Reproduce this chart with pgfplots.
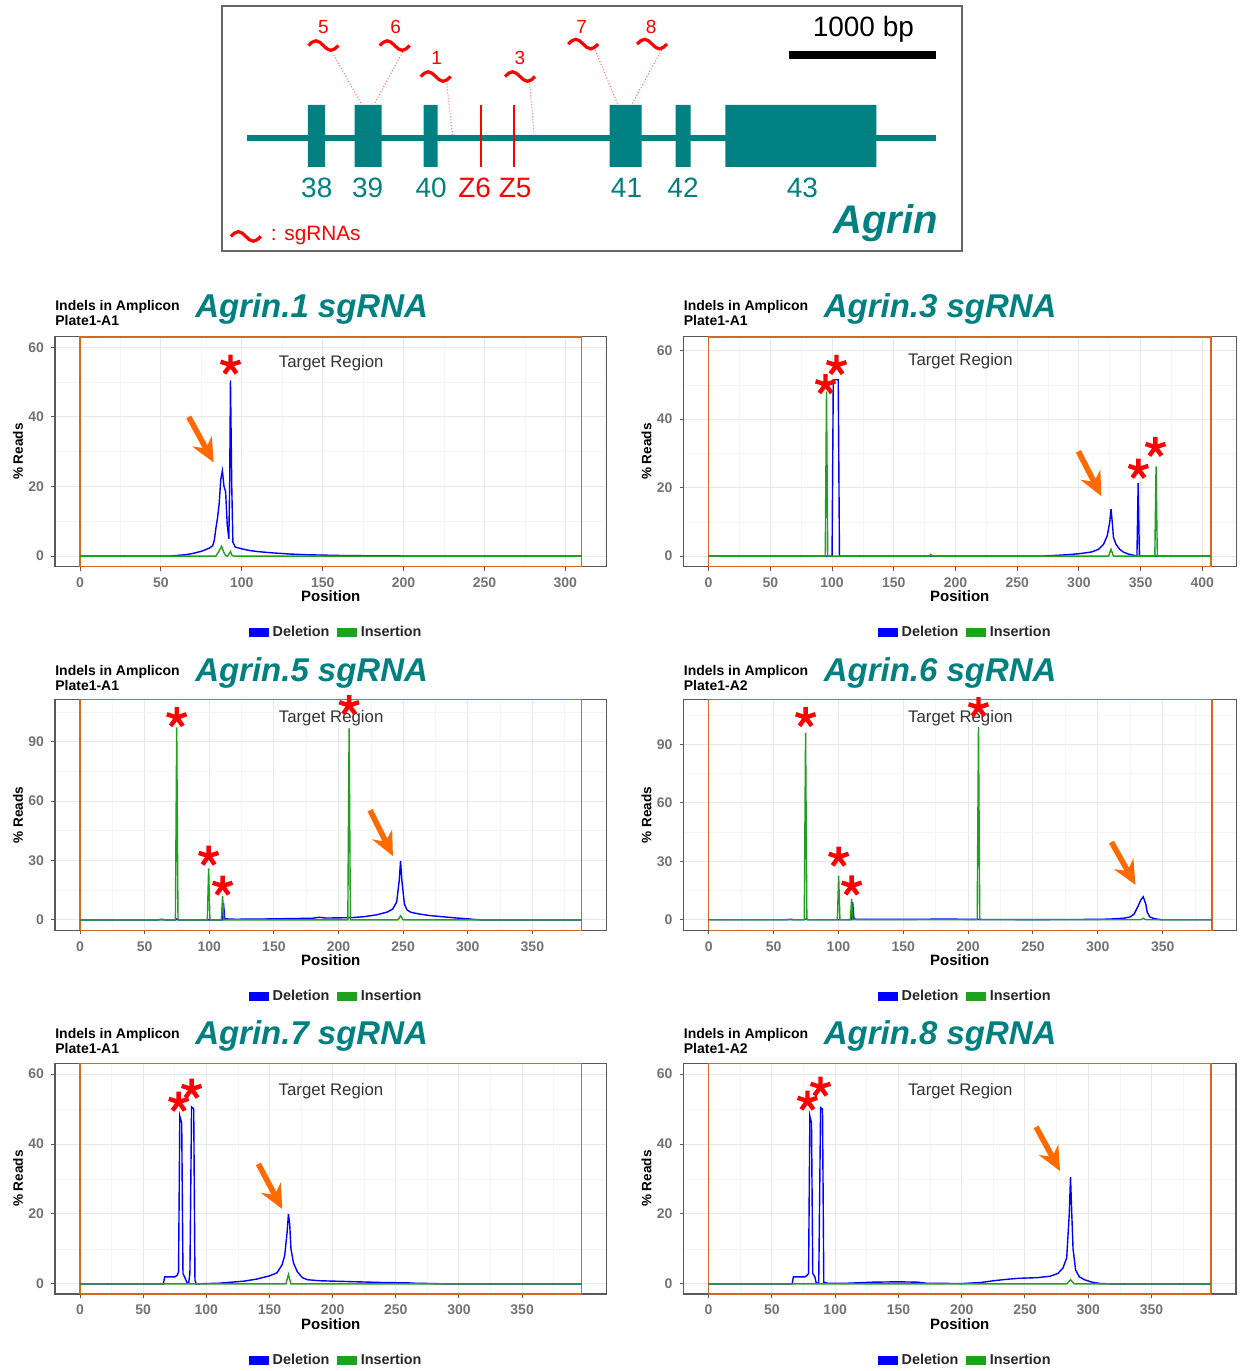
\documentclass[border=0pt]{standalone}
\usepackage{pgfplots}
\pgfplotsset{compat=1.18}
\usepackage{fontspec}
\setmainfont{Liberation Sans}
\usetikzlibrary{arrows.meta}
\definecolor{agteal}{HTML}{008080}
\definecolor{delblue}{HTML}{0000FF}
\definecolor{insgreen}{HTML}{1FA01F}
\definecolor{ampor}{HTML}{D2691E}
\definecolor{arrowor}{HTML}{FF6A00}
\tikzset{del/.style={delblue, line width=0.7pt}, ins/.style={insgreen, line width=0.7pt}}
\pgfplotsset{
 panel/.style={
  scale only axis, width=276pt, height=115pt, anchor=south west,
  clip mode=individual,
  axis line style={draw=black!65, line width=0.6pt},
  tick align=outside, tick pos=left,
  major tick length=2pt, minor tick length=0pt,
  tick style={draw=black!65, line width=0.5pt},
  grid=both,
  major grid style={draw=black!9, line width=0.5pt},
  minor grid style={draw=black!4, line width=0.3pt},
  ticklabel style={font=\bfseries\fontsize{7}{8}\selectfont, text=black!55},
  /pgf/number format/assume math mode=true,
  xlabel=Position, ylabel={\% Reads},
  xlabel style={font=\bfseries\fontsize{7.5}{8}\selectfont, at={(axis description cs:0.5,-0.13)}, anchor=center},
  ylabel style={font=\bfseries\fontsize{6.8}{8}\selectfont, at={(axis description cs:-0.067,0.5)}, anchor=center},
  legend style={at={(axis description cs:0.512,-0.287)}, anchor=center, draw=none, fill=none, legend columns=2, font=\bfseries\fontsize{7.2}{8}\selectfont, text=black!85, inner sep=0pt, /tikz/every even column/.append style={column sep=2pt}},
  legend image code/.code={\fill[##1] (0pt,-2pt) rectangle (9pt,2pt);},
 },
}
\newcommand\redstar[2]{\draw[red, line width=2.2pt] (axis cs:#1,#2) -- ++(90:5.2pt) (axis cs:#1,#2) -- ++(18:5.2pt) (axis cs:#1,#2) -- ++(162:5.2pt) (axis cs:#1,#2) -- ++(-54:5.2pt) (axis cs:#1,#2) -- ++(234:5.2pt);}
\newcommand\orarrow[4]{\draw[-{Stealth[length=12pt,width=11pt,inset=4pt]}, draw=arrowor, fill=arrowor, line width=2.8pt] (axis cs:#1,#2) -- (axis cs:#3,#4);}
\newcommand\sgt[2]{\draw[red, line width=1.6pt] (axis cs:#1,#2) ++(-7.5pt,-0.3pt) sin ++(3.75pt,2.4pt) cos ++(3.75pt,-2.4pt) sin ++(3.75pt,-2.4pt) cos ++(3.75pt,2.4pt);}
\newcommand\treg[2]{\node[font=\fontsize{8.4}{9}\selectfont, text=black!80] at (axis cs:#1,#2) {Target Region};}
\newcommand\sgn[3]{\node[text=red, font=\fontsize{9.5}{10}\selectfont] at (axis cs:#1,#2) {#3};}
\newcommand\exn[3]{\node[text=#3, font=\fontsize{14}{14}\selectfont] at (axis cs:#1,-188) {#2};}
\begin{document}
\begin{tikzpicture}
\path (0,0) rectangle (621.5pt,-685.5pt);

% ---------------- gene diagram ----------------
\begin{axis}[at={(111pt,-125.5pt)}, anchor=south west, scale only axis, width=370.5pt, height=122.5pt,
  xmin=222, xmax=963, ymin=-251, ymax=-6, xtick=\empty, ytick=\empty,
  axis line style={draw=black!60, line width=1pt}, clip mode=individual]
\addplot[agteal, line width=3pt] coordinates {(247,-138) (937,-138)};
\addplot[fill=agteal, draw=none] coordinates {(308,-105) (325,-105) (325,-167) (308,-167) (308,-105)};
\addplot[fill=agteal, draw=none] coordinates {(355,-105) (382,-105) (382,-167) (355,-167) (355,-105)};
\addplot[fill=agteal, draw=none] coordinates {(424,-105) (438,-105) (438,-167) (424,-167) (424,-105)};
\addplot[fill=agteal, draw=none] coordinates {(610,-105) (642,-105) (642,-167) (610,-167) (610,-105)};
\addplot[fill=agteal, draw=none] coordinates {(676,-105) (691,-105) (691,-167) (676,-167) (676,-105)};
\addplot[fill=agteal, draw=none] coordinates {(726,-105) (877,-105) (877,-167) (726,-167) (726,-105)};
\addplot[red, line width=1.1pt] coordinates {(481,-105) (481,-167)};
\addplot[red, line width=1.1pt] coordinates {(514,-105) (514,-167)};
\addplot[red!60, densely dotted, line width=0.5pt] coordinates {(334,-55) (361.6,-104)};
\addplot[red!60, densely dotted, line width=0.5pt] coordinates {(403,-52) (374.5,-104)};
\addplot[red!60, densely dotted, line width=0.5pt] coordinates {(447,-83.6) (453,-135.5)};
\addplot[red!60, densely dotted, line width=0.5pt] coordinates {(530,-83.6) (534.6,-135.5)};
\addplot[red!60, densely dotted, line width=0.5pt] coordinates {(595.5,-50) (618,-104)};
\addplot[red!60, densely dotted, line width=0.5pt] coordinates {(662,-50) (632.5,-104)};
\addplot[black, line width=3.85pt] coordinates {(790,-54.7) (937,-54.7)};
\sgt{323.6}{-45}\sgt{395}{-45}\sgt{436}{-76}\sgt{520.4}{-76}\sgt{583.6}{-43.5}\sgt{652.5}{-43.5}\sgt{246}{-236}
\sgn{323.6}{-27}{5}\sgn{396}{-27}{6}\sgn{437}{-58}{1}\sgn{520.4}{-58}{3}\sgn{582}{-27}{7}\sgn{651.6}{-27}{8}
\exn{317}{38}{agteal}\exn{368}{39}{agteal}\exn{431.5}{40}{agteal}\exn{475}{Z6}{red}\exn{515.5}{Z5}{red}
\exn{627}{41}{agteal}\exn{683.5}{42}{agteal}\exn{803}{43}{agteal}
\node[font=\fontsize{14}{14}\selectfont] at (axis cs:864,-29) {1000 bp};
\node[text=agteal, font=\bfseries\itshape\fontsize{20}{20}\selectfont] at (axis cs:886,-223) {Agrin};
\node[text=red, font=\fontsize{10.4}{11}\selectfont] at (axis cs:316,-236) {: sgRNAs};
\end{axis}

% ---------------- titles ----------------
\foreach \xa/\xb/\ya/\yb/\n/\p in {27.5/97.5/156.75/154.5/1/A1, 342/412/156.75/154.5/3/A1, 27.5/97.5/339/336.5/5/A1, 342/412/339/336.5/6/A2, 27.5/97.5/521/518.5/7/A1, 342/412/521/518.5/8/A2}{
 \node[anchor=west, align=left, inner sep=0pt, font=\bfseries\fontsize{7}{7.5}\selectfont] at (\xa pt,-\ya pt) {Indels in Amplicon\\Plate1-\p};
 \node[anchor=west, inner sep=0pt, text=agteal, font=\bfseries\itshape\fontsize{16.5}{17}\selectfont] at (\xb pt,-\yb pt) {Agrin.\n\ sgRNA};
}

% ---------------- Agrin.1 ----------------
\begin{axis}[panel, at={(27.5pt,-283.5pt)}, xmin=-15.5, xmax=325.5, ymin=-3, ymax=63,
  xtick={0,50,...,300}, minor xtick={25,75,...,325}, ytick={0,20,40,60}, minor ytick={10,30,50}]
\addplot[ampor, line width=0.8pt, forget plot] coordinates {(0,-3) (0,63) (310,63) (310,-3) (0,-3)};
\addplot[del] coordinates {(0,0) (55,0) (60,0.2) (65,0.4) (70,0.8) (75,1.4) (80,2.3) (82,3) (83,4.5) (84,8) (85,11) (86,15) (87,22) (88,24.5) (89,20) (90,18.5) (91,9) (92,5) (92.5,20) (93,50.5) (93.8,20) (94.5,4) (96,2.6) (100,2.1) (105,1.6) (110,1.3) (120,0.9) (130,0.6) (140,0.4) (150,0.3) (160,0.2) (180,0.1) (200,0.05) (220,0) (310,0)};
\addlegendentry{Deletion}
\addplot[ins] coordinates {(0,0) (84,0) (86,1.5) (87.5,2.8) (89,1) (90,0.2) (91,0) (92,0.5) (93,1.3) (94,0.2) (95,0) (310,0)};
\addlegendentry{Insertion}
\treg{155.3}{55.4}
\redstar{93}{54.9}
\orarrow{67.2}{40}{82.6}{26.9}
\end{axis}

% ---------------- Agrin.3 ----------------
\begin{axis}[panel, at={(342pt,-283.5pt)}, width=276.5pt, xmin=-20.35, xmax=427.35, ymin=-3.05, ymax=64.05,
  xtick={0,50,...,400}, minor xtick={25,75,...,425}, ytick={0,20,40,60}, minor ytick={10,30,50}]
\addplot[ampor, line width=0.8pt, forget plot] coordinates {(0,-3.05) (0,64.05) (407,64.05) (407,-3.05) (0,-3.05)};
\addplot[del] coordinates {(0,0) (100,0) (101,51.5) (105,51.5) (106,0) (270,0) (280,0.2) (290,0.4) (300,0.7) (310,1.2) (316,2) (320,3.5) (323,6) (325,10) (326,13.8) (327,10) (328,5.5) (330,3.5) (333,2) (336,1.2) (340,0.6) (345,0.2) (347,0) (348,21.3) (349,0) (407,0)};
\addlegendentry{Deletion}
\addplot[ins] coordinates {(0,0) (94.5,0) (95.5,48) (96.5,0) (179,0) (180,0.5) (181,0) (324,0) (326,2) (328,0) (361.5,0) (362.5,26.2) (363.5,0) (407,0)};
\addlegendentry{Insertion}
\treg{204}{56.9}
\redstar{94.7}{50.1}
\redstar{103.6}{55.7}
\redstar{348.2}{25.4}
\redstar{362}{31.8}
\orarrow{299.6}{30.6}{318.2}{17.5}
\end{axis}

% ---------------- Agrin.5 ----------------
\begin{axis}[panel, at={(27.5pt,-465.5pt)}, height=115.5pt, xmin=-19.4, xmax=407.4, ymin=-5.3, ymax=111.3,
  xtick={0,50,...,350}, minor xtick={25,75,...,375}, ytick={0,30,60,90}, minor ytick={15,45,75,105}]
\addplot[ampor, line width=0.8pt, forget plot] coordinates {(0,-5.3) (0,111.3) (388,111.3) (388,-5.3) (0,-5.3)};
\addplot[del] coordinates {(0,0) (60,0) (63,0.3) (66,0) (74,0) (75,0.5) (76,0) (110,0) (111,8.5) (112,0.5) (120,0.3) (140,0.4) (160,0.6) (180,0.8) (185,1.3) (190,0.9) (200,1.0) (210,1.1) (220,1.6) (230,2.6) (238,4) (242,5.5) (245,9) (247,20) (248,29.7) (249,20) (251,8) (253,5) (256,3.8) (262,3) (270,2.2) (280,1.6) (290,1) (300,0.5) (305,0.2) (310,0) (388,0)};
\addlegendentry{Deletion}
\addplot[ins] coordinates {(0,0) (73.8,0) (74.8,97.2) (75.8,0) (98.5,0) (99.5,26) (100.5,0) (109.3,0) (110.3,12) (111.3,0) (207.2,0) (208.2,96.7) (209.2,0) (246,0) (248,2) (250,0) (388,0)};
\addlegendentry{Insertion}
\treg{194.3}{101.7}
\redstar{74.8}{102.2}
\redstar{99.5}{32.2}
\redstar{110.3}{17.1}
\redstar{208.2}{108.3}
\orarrow{224.4}{55.4}{242.1}{32.2}
\end{axis}

% ---------------- Agrin.6 ----------------
\begin{axis}[panel, at={(342pt,-465.5pt)}, width=276.5pt, height=115.5pt, xmin=-19.4, xmax=406.6, ymin=-5.4, ymax=113,
  xtick={0,50,...,350}, minor xtick={25,75,...,375}, ytick={0,30,60,90}, minor ytick={15,45,75,105}]
\addplot[ampor, line width=0.8pt, forget plot] coordinates {(0,-5.4) (0,113) (388,113) (388,-5.4) (0,-5.4)};
\addplot[del] coordinates {(0,0) (60,0) (63,0.3) (66,0) (73,0) (75,0.4) (77,0) (110,0) (111,9) (112,0.5) (114,0.2) (150,0.2) (170,0.3) (185,0.4) (200,0.2) (250,0.1) (300,0.2) (310,0.4) (320,0.8) (325,1.5) (328,3) (331,7) (333,10) (335,11.8) (337,8) (338,4) (340,1.5) (343,0.7) (346,0.3) (350,0) (388,0)};
\addlegendentry{Deletion}
\addplot[ins] coordinates {(0,0) (73.7,0) (74.7,96) (75.7,0) (99.2,0) (100.2,22.5) (101.2,0) (109.2,0) (110.2,10.7) (111.2,0) (207,0) (208,99) (209,0) (333,0) (335,0.8) (337,0) (388,0)};
\addlegendentry{Insertion}
\treg{194.1}{103.3}
\redstar{74.7}{103.8}
\redstar{100.2}{32.2}
\redstar{110.2}{17.4}
\redstar{208}{108.9}
\orarrow{310.5}{39.9}{329}{17.9}
\end{axis}

% ---------------- Agrin.7 ----------------
\begin{axis}[panel, at={(27.5pt,-647.5pt)}, height=115.5pt, xmin=-19.85, xmax=416.85, ymin=-2.9, ymax=63.1,
  xtick={0,50,...,350}, minor xtick={25,75,...,375}, ytick={0,20,40,60}, minor ytick={10,30,50}]
\addplot[ampor, line width=0.8pt, forget plot] coordinates {(0,-2.9) (0,63.1) (397,63.1) (397,-2.9) (0,-2.9)};
\addplot[del] coordinates {(0,0) (66,0) (67,2) (75,2) (77,2.5) (78,3.5) (79,48) (80.5,46) (81.5,3) (84,1) (85,0.2) (86,0.2) (87,3) (88.3,50.6) (90,50) (91,1) (92,0) (100,0.1) (110,0.2) (120,0.5) (130,0.8) (140,1.4) (150,2.3) (156,3.2) (160,5.5) (162,8) (164,15) (165,20) (166,17) (167,10) (169,6) (172,3.5) (176,1.8) (180,1.2) (190,0.9) (200,0.8) (220,0.6) (240,0.4) (260,0.3) (265,0.2) (280,0.1) (290,0) (397,0)};
\addlegendentry{Deletion}
\addplot[ins] coordinates {(0,0) (163,0) (165,2.7) (167,0) (397,0)};
\addlegendentry{Insertion}
\treg{198.7}{55.1}
\redstar{78.1}{52}
\redstar{88.3}{55.7}
\orarrow{141.2}{34.3}{160.1}{21.4}
\end{axis}

% ---------------- Agrin.8 ----------------
\begin{axis}[panel, at={(342pt,-647.5pt)}, width=276.5pt, height=115.5pt, xmin=-19.85, xmax=416.85, ymin=-2.9, ymax=63.1,
  xtick={0,50,...,350}, minor xtick={25,75,...,375}, ytick={0,20,40,60}, minor ytick={10,30,50}]
\addplot[ampor, line width=0.8pt, forget plot] coordinates {(0,-2.9) (0,63.1) (397,63.1) (397,-2.9) (0,-2.9)};
\addplot[del] coordinates {(0,0) (66,0) (67,2) (76,2) (78,2.5) (79,3) (80,48) (81.3,46) (82.3,3) (84,2) (85,0.3) (87,0.3) (88.5,50.4) (90,50) (91,0.5) (94,0.2) (110,0.2) (130,0.5) (150,0.6) (165,0.5) (172,0.2) (200,0.1) (215,0.4) (225,0.9) (235,1.3) (245,1.6) (260,1.8) (270,2.2) (276,3) (280,4.5) (283,7.5) (285,20) (286,30.6) (287,20) (288,10) (290,4) (293,2) (297,1.2) (303,0.5) (310,0.1) (320,0) (397,0)};
\addlegendentry{Deletion}
\addplot[ins] coordinates {(0,0) (283,0) (286,1.2) (289,0) (397,0)};
\addlegendentry{Insertion}
\treg{198.9}{55.1}
\redstar{78.1}{52.3}
\redstar{88.4}{56.3}
\orarrow{258.8}{44.9}{277.7}{32.3}
\end{axis}
\end{tikzpicture}
\end{document}
